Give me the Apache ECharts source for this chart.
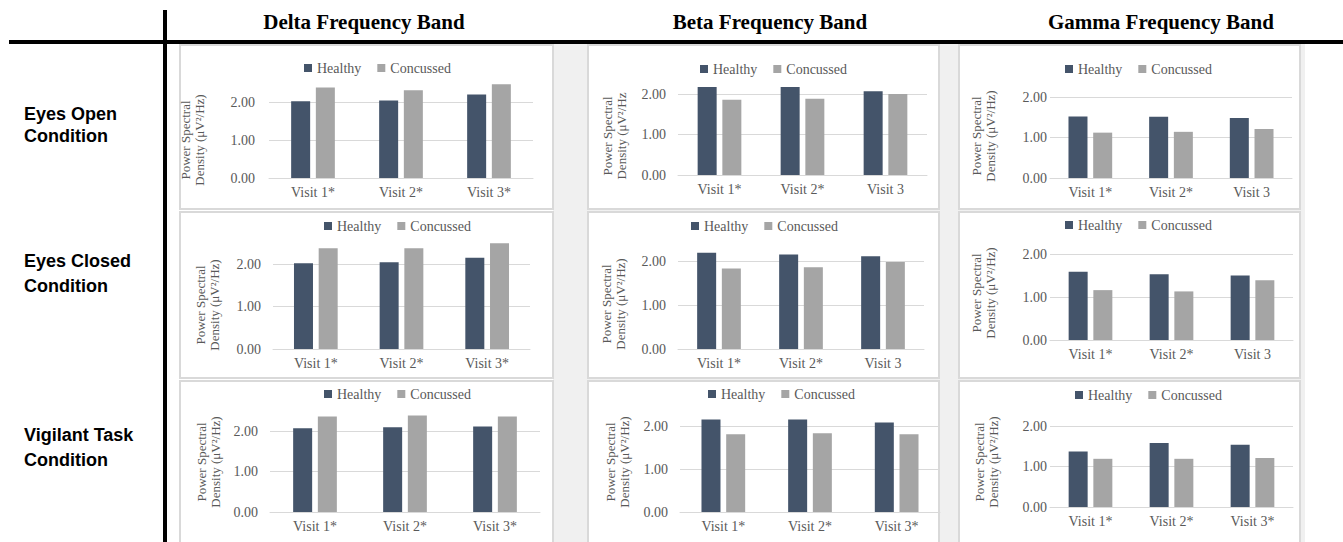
<!DOCTYPE html>
<html>
<head>
<meta charset="utf-8">
<script src="https://cdn.jsdelivr.net/npm/echarts@6/dist/echarts.min.js"></script>
<style>
html,body{margin:0;padding:0;background:#fff;}
#chart{width:1343px;height:542px;}
</style>
</head>
<body>
<div id="chart"></div>
<script>
// ---------- data ----------
const bandTitles = ['Delta Frequency Band', 'Beta Frequency Band', 'Gamma Frequency Band'];
const conditionTitles = [['Eyes Open', 'Condition'], ['Eyes Closed', 'Condition'], ['Vigilant Task', 'Condition']];
const seriesNames = ['Healthy', 'Concussed'];
const visitsAllSig = ['Visit 1*', 'Visit 2*', 'Visit 3*'];
const visitsTwoSig = ['Visit 1*', 'Visit 2*', 'Visit 3'];
const yTickLabels = ['0.00', '1.00', '2.00'];
const axisTitleLine1 = 'Power Spectral';
const axisTitleLine2 = 'Density (μV²/Hz)';
const axisTitleLine2Cut = 'Density (μV²/Hz';

const eyesOpenDeltaHealthy = [2.02, 2.04, 2.20];
const eyesOpenDeltaConcussed = [2.38, 2.31, 2.47];
const eyesOpenBetaHealthy = [2.17, 2.17, 2.07];
const eyesOpenBetaConcussed = [1.86, 1.88, 2.00];
const eyesOpenGammaHealthy = [1.52, 1.51, 1.48];
const eyesOpenGammaConcussed = [1.12, 1.14, 1.21];

const eyesClosedDeltaHealthy = [2.02, 2.04, 2.15];
const eyesClosedDeltaConcussed = [2.37, 2.37, 2.49];
const eyesClosedBetaHealthy = [2.19, 2.15, 2.11];
const eyesClosedBetaConcussed = [1.83, 1.86, 1.98];
const eyesClosedGammaHealthy = [1.59, 1.53, 1.50];
const eyesClosedGammaConcussed = [1.16, 1.13, 1.39];

const vigilantDeltaHealthy = [2.07, 2.09, 2.11];
const vigilantDeltaConcussed = [2.36, 2.38, 2.36];
const vigilantBetaHealthy = [2.15, 2.15, 2.08];
const vigilantBetaConcussed = [1.81, 1.83, 1.81];
const vigilantGammaHealthy = [1.37, 1.58, 1.54];
const vigilantGammaConcussed = [1.19, 1.19, 1.21];

// table built from the arrays above
const panels = [
  [
    {cats: visitsAllSig, h: eyesOpenDeltaHealthy, c: eyesOpenDeltaConcussed, max: 2.5, t2: axisTitleLine2},
    {cats: visitsTwoSig, h: eyesOpenBetaHealthy, c: eyesOpenBetaConcussed, max: 2.5, t2: axisTitleLine2Cut},
    {cats: visitsTwoSig, h: eyesOpenGammaHealthy, c: eyesOpenGammaConcussed, max: 2, t2: axisTitleLine2}
  ],
  [
    {cats: visitsAllSig, h: eyesClosedDeltaHealthy, c: eyesClosedDeltaConcussed, max: 2.5, t2: axisTitleLine2},
    {cats: visitsTwoSig, h: eyesClosedBetaHealthy, c: eyesClosedBetaConcussed, max: 2.5, t2: axisTitleLine2},
    {cats: visitsTwoSig, h: eyesClosedGammaHealthy, c: eyesClosedGammaConcussed, max: 2, t2: axisTitleLine2}
  ],
  [
    {cats: visitsAllSig, h: vigilantDeltaHealthy, c: vigilantDeltaConcussed, max: 2.5, t2: axisTitleLine2},
    {cats: visitsAllSig, h: vigilantBetaHealthy, c: vigilantBetaConcussed, max: 2.5, t2: axisTitleLine2},
    {cats: visitsAllSig, h: vigilantGammaHealthy, c: vigilantGammaConcussed, max: 2, t2: axisTitleLine2}
  ]
];

// ---------- layout (pixels) ----------
const layout = [
  [
    {L: 269, R: 533, y0: 178, y2: 102, lm: 14, lgX: 299, lgY: 69, tx: 192, ty: 140},
    {L: 678, R: 927, y0: 175, y2: 94, lm: 12, lgX: 695, lgY: 70, tx: 614, ty: 136},
    {L: 1050, R: 1292, y0: 178, y2: 97, lm: 3, lgX: 1060, lgY: 70, tx: 983, ty: 136}
  ],
  [
    {L: 273, R: 530, y0: 349, y2: 264, lm: 12, lgX: 319, lgY: 227, tx: 207, ty: 305},
    {L: 678, R: 924, y0: 349, y2: 261, lm: 12, lgX: 686, lgY: 227, tx: 613, ty: 304},
    {L: 1050, R: 1293, y0: 340, y2: 254, lm: 3, lgX: 1060, lgY: 226, tx: 983, ty: 293}
  ],
  [
    {L: 270, R: 540, y0: 512, y2: 431, lm: 12, lgX: 319, lgY: 395, tx: 208, ty: 462},
    {L: 680, R: 940, y0: 512, y2: 426, lm: 12, lgX: 703, lgY: 395, tx: 617, ty: 462},
    {L: 1050, R: 1293, y0: 507, y2: 426, lm: 3, lgX: 1070, lgY: 396, tx: 986, ty: 462}
  ]
];
const panelX = [[180, 553], [588, 939], [959, 1300]];
const panelY = [[45, 209], [212, 378], [381, 548]];
const headerX = [364, 770, 1161];
const rowLabelY = [[114, 136], [261, 286], [435, 460]];

const SERIF = 'Liberation Serif';
const SANS = 'Liberation Sans';
const TXT = '#595959';
const COLORS = ['#44546A', '#A5A5A5'];

const grids = [], xAxes = [], yAxes = [], series = [], legends = [], graphics = [];

// backgrounds
graphics.push({type: 'rect', z: -20, shape: {x: 553, y: 44, width: 752, height: 498}, style: {fill: '#F0F0F0'}});
for (let r = 0; r < 3; r++) {
  for (let c = 0; c < 3; c++) {
    graphics.push({type: 'rect', z: -10,
      shape: {x: panelX[c][0], y: panelY[r][0], width: panelX[c][1] - panelX[c][0], height: panelY[r][1] - panelY[r][0]},
      style: {fill: '#FFFFFF', stroke: '#D9D9D9', lineWidth: 2}});
  }
}
// table rules
graphics.push({type: 'rect', z: 10, shape: {x: 163, y: 10, width: 4, height: 532}, style: {fill: '#000'}});
graphics.push({type: 'rect', z: 10, shape: {x: 9, y: 40, width: 1334, height: 4}, style: {fill: '#000'}});
// headers
bandTitles.forEach((t, c) => {
  graphics.push({type: 'text', z: 10, x: headerX[c], y: 22,
    style: {text: t, fill: '#000', fontFamily: SERIF, fontWeight: 'bold', fontSize: 21, textAlign: 'center', textVerticalAlign: 'middle'}});
});
conditionTitles.forEach((lines, r) => {
  lines.forEach((t, i) => {
    graphics.push({type: 'text', z: 10, x: 24, y: rowLabelY[r][i],
      style: {text: t, fill: '#000', fontFamily: SANS, fontWeight: 'bold', fontSize: 18, textAlign: 'left', textVerticalAlign: 'middle'}});
  });
});

let idx = 0;
for (let r = 0; r < 3; r++) {
  for (let c = 0; c < 3; c++) {
    const p = panels[r][c], lo = layout[r][c];
    const unit = (lo.y0 - lo.y2) / 2;
    const top = lo.y0 - unit * p.max;
    grids.push({left: lo.L, top: top, width: lo.R - lo.L, height: lo.y0 - top});
    xAxes.push({type: 'category', gridIndex: idx, data: p.cats,
      axisLine: {lineStyle: {color: '#D9D9D9', width: 1}}, axisTick: {show: false},
      axisLabel: {color: TXT, fontFamily: SERIF, fontSize: 14, margin: 7, interval: 0}});
    yAxes.push({type: 'value', gridIndex: idx, min: 0, max: p.max, interval: 1,
      axisLine: {show: false}, axisTick: {show: false},
      splitLine: {show: true, showMaxLine: p.max === 2, lineStyle: {color: '#D9D9D9', width: 1}},
      axisLabel: {color: TXT, fontFamily: SERIF, fontSize: 14, margin: lo.lm, showMaxLabel: p.max === 2,
        formatter: v => (Number.isInteger(v) ? yTickLabels[v] : '')}});
    series.push({name: seriesNames[0], type: 'bar', xAxisIndex: idx, yAxisIndex: idx, data: p.h,
      barWidth: 19, barGap: '30%', itemStyle: {color: COLORS[0]}, silent: true});
    series.push({name: seriesNames[1], type: 'bar', xAxisIndex: idx, yAxisIndex: idx, data: p.c,
      barWidth: 19, barGap: '30%', itemStyle: {color: COLORS[1]}, silent: true});
    legends.push({left: lo.lgX, top: lo.lgY - 13, data: seriesNames, icon: 'rect', itemWidth: 8, itemHeight: 8,
      itemGap: 16, textStyle: {color: TXT, fontFamily: SERIF, fontSize: 14}, selectedMode: false});
    graphics.push({type: 'text', z: 10, x: lo.tx, y: lo.ty, rotation: Math.PI / 2,
      style: {text: axisTitleLine1 + '\n' + p.t2, fill: TXT, fontFamily: SERIF, fontSize: 13, lineHeight: 14,
        textAlign: 'center', textVerticalAlign: 'middle'}});
    idx++;
  }
}

const chart = echarts.init(document.getElementById('chart'), null, {renderer: 'svg', width: 1343, height: 542});
chart.setOption({
  animation: false,
  backgroundColor: '#fff',
  grid: grids, xAxis: xAxes, yAxis: yAxes, series: series, legend: legends, graphic: graphics
});
</script>
</body>
</html>
